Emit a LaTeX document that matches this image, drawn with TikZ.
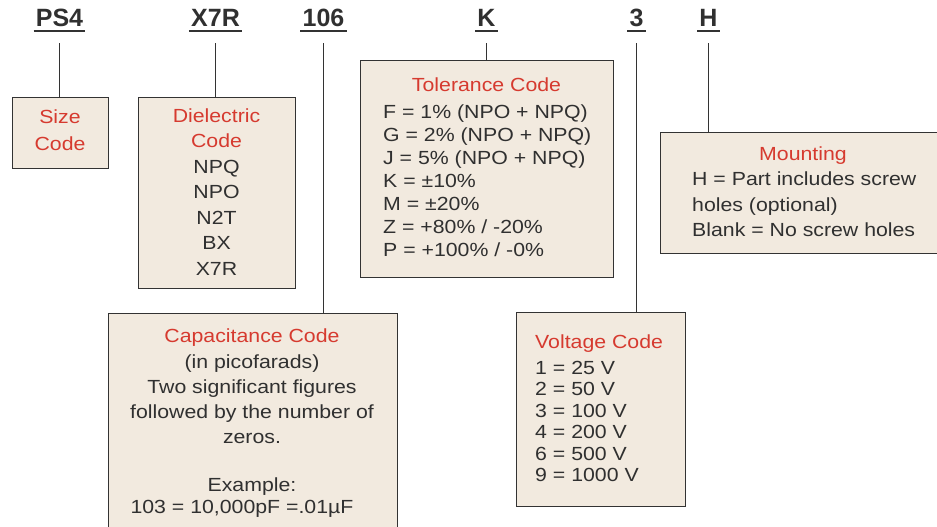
\documentclass[tikz,border=0pt]{standalone}
\usepackage{fontspec}
\setmainfont{Liberation Sans}[FakeStretch=1.12]
\newfontfamily\partfont{Liberation Sans}
\usetikzlibrary{positioning}
\definecolor{boxfill}{HTML}{F2EADF}
\definecolor{boxline}{HTML}{333333}
\definecolor{codered}{HTML}{D63A2F}
\definecolor{textgray}{HTML}{303030}
\tikzset{
    codebox/.style={draw=boxline, line width=1.4pt, fill=boxfill, inner sep=0pt, anchor=north west},
    part/.style={font=\partfont\bfseries\fontsize{25}{30}\selectfont, text=textgray, anchor=base, inner xsep=2pt, inner ysep=3.5pt},
    uline/.style={draw=boxline, line width=1.7pt},
    leader/.style={draw=boxline, line width=1.3pt, shorten <=12.5pt},
    txt/.style={font=\fontsize{19}{23}\selectfont, text=textgray, inner sep=0pt},
    ttl/.style={txt, text=codered}
}

\begin{document}
\begin{tikzpicture}[x=1pt, y=-1pt]
    \useasboundingbox (0,0) rectangle (937,527);
    \clip (0,0) rectangle (937,527);
    % The part number across the top.
        \node[part] (ps4) at (59.5,27) {PS4};
        \node[part] (x7r) at (215.5,27) {X7R};
        \node[part] (cap106) at (323.5,27) {106};
        \node[part] (k) at (486.5,27) {K};
        \node[part] (v3) at (636.5,27) {3};
        \node[part] (h) at (708.5,27) {H};
        \foreach \p in {ps4, x7r, cap106, k, v3, h}
            \draw[uline] (\p.south west) -- (\p.south east);
    % The boxes.
        \node[codebox, minimum width=96pt, minimum height=71pt] (size) at (12,97) {};
        \node[codebox, minimum width=157pt, minimum height=191pt] (diel) at (138,97) {};
        \node[codebox, minimum width=253pt, minimum height=217pt] (tol) at (360,60) {};
        \node[codebox, minimum width=290pt, minimum height=121pt] (mount) at (660,132) {};
        \node[codebox, minimum width=289pt, minimum height=230pt] (cap) at (108,313) {};
        \node[codebox, minimum width=169pt, minimum height=194pt] (volt) at (516,312) {};
    % Leader lines from each code to its box.
        \draw[leader] (ps4.south) -- (ps4.south |- size.north);
        \draw[leader] (x7r.south) -- (x7r.south |- diel.north);
        \draw[leader] (cap106.south) -- (cap106.south |- cap.north);
        \draw[leader] (k.south) -- (k.south |- tol.north);
        \draw[leader] (v3.south) -- (v3.south |- volt.north);
        \draw[leader] (h.south) -- (h.south |- mount.north);
    % Size code.
        \node[ttl, anchor=base] (size-1) at (60,123) {Size};
        \node[ttl, anchor=base] (size-2) at (60,150) {Code};
    % Dielectric code.
        \node[ttl, anchor=base] (diel-1) at (216.5,122) {Dielectric};
        \node[ttl, anchor=base] (diel-2) at (216.5,147.5) {Code};
        \foreach \t [count=\i from 0] in {NPQ, NPO, N2T, BX, X7R}
            \node[txt, anchor=base] (diel-t\i) at (216.5,{173+25.5*\i}) {\t};
    % Tolerance code.
        \node[ttl, anchor=base] (tol-t) at (486.5,92) {Tolerance Code};
        \foreach \t [count=\i from 0] in {{F = 1\% (NPO + NPQ)}, {G = 2\% (NPO + NPQ)}, {J = 5\% (NPO + NPQ)},
            {K = ±10\%}, {M = ±20\%}, {Z = +80\% / -20\%}, {P = +100\% / -0\%}}
            \node[txt, anchor=base west] (tol-\i) at (383,{118+23*\i}) {\t};
    % Mounting.
        \node[ttl, anchor=base] (mount-t) at (803,160) {Mounting};
        \foreach \t [count=\i from 0] in {H = Part includes screw, holes (optional), Blank = No screw holes}
            \node[txt, anchor=base west] (mount-\i) at (692,{185.5+25.5*\i}) {\t};
    % Capacitance code.
        \node[ttl, anchor=base] (cap-t) at (252,342) {Capacitance Code};
        \node[txt, anchor=base] (cap-1) at (252,368) {(in picofarads)};
        \node[txt, anchor=base] (cap-2) at (252,393) {Two significant figures};
        \node[txt, anchor=base] (cap-3) at (252,418.5) {followed by the number of};
        \node[txt, anchor=base] (cap-4) at (252,443.5) {zeros.};
        \node[txt, anchor=base] (cap-5) at (252,491.5) {Example:};
        \node[txt, anchor=base] (cap-6) at (242,513) {103 = 10,000pF =.01µF};
    % Voltage code.
        \node[ttl, anchor=base west] (volt-t) at (535,348.5) {Voltage Code};
        \foreach \t [count=\i from 0] in {1 = 25 V, 2 = 50 V, 3 = 100 V, 4 = 200 V, 6 = 500 V, 9 = 1000 V}
            \node[txt, anchor=base west] (volt-\i) at (535,{374+21.5*\i}) {\t};
\end{tikzpicture}
\end{document}
